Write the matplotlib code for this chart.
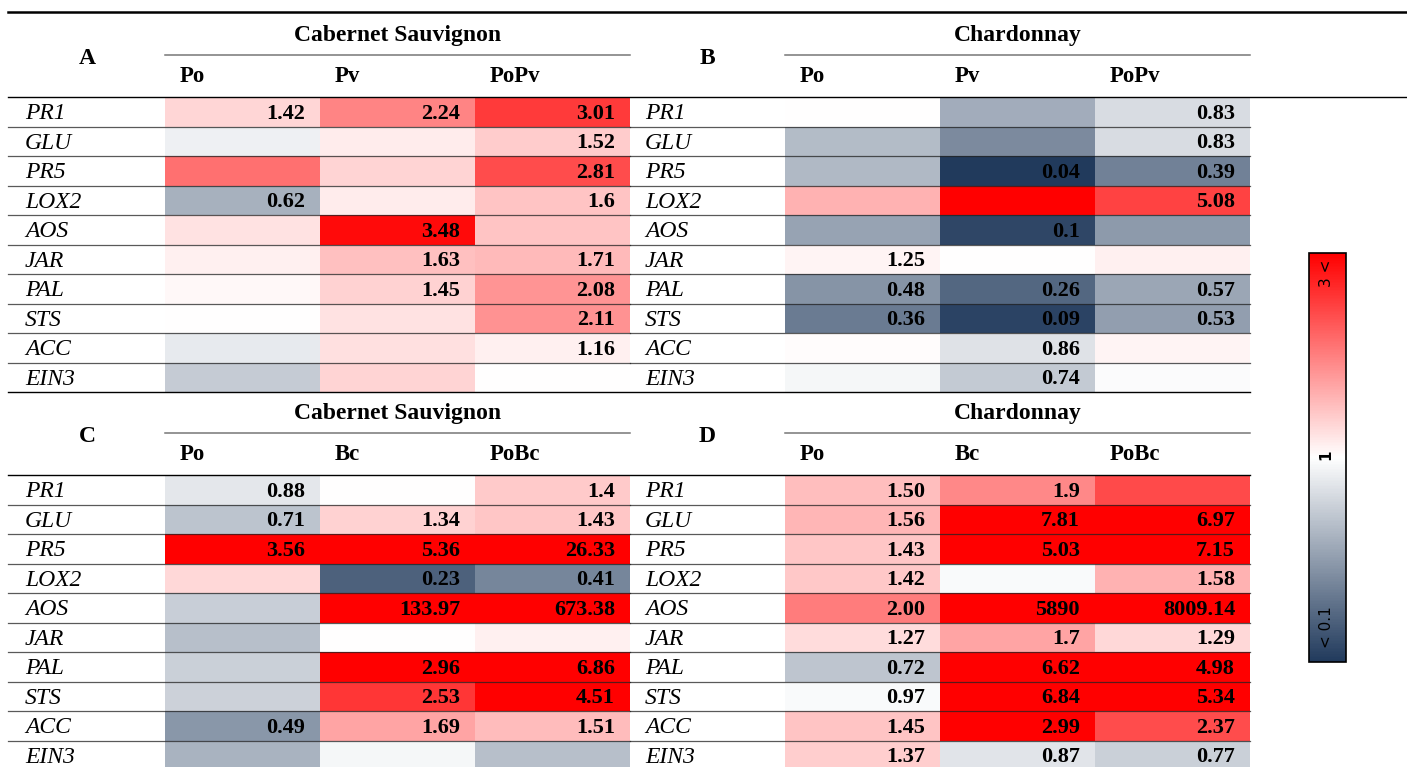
import numpy as np
import matplotlib.pyplot as plt
from matplotlib.colors import LinearSegmentedColormap, TwoSlopeNorm
from matplotlib.cm import ScalarMappable

genes = ["PR1", "GLU", "PR5", "LOX2", "AOS", "JAR", "PAL", "STS", "ACC", "EIN3"]
cultivars = ["Cabernet Sauvignon", "Chardonnay"]
cols_pv = ["Po", "Pv", "PoPv"]
cols_bc = ["Po", "Bc", "PoBc"]

# fold change per cell; cells with no printed number were read from their colour
a_vals = [[1.42, 2.24, 3.01], [0.93, 1.2, 1.52], [2.45, 1.43, 2.81], [0.62, 1.19, 1.6],
          [1.3, 3.48, 1.6], [1.16, 1.63, 1.71], [1.08, 1.45, 2.08], [1.02, 1.3, 2.11],
          [0.9, 1.32, 1.16], [0.75, 1.43, 1.0]]
a_text = [["1.42", "2.24", "3.01"], ["", "", "1.52"], ["", "", "2.81"], ["0.62", "", "1.6"],
          ["", "3.48", ""], ["", "1.63", "1.71"], ["", "1.45", "2.08"], ["", "", "2.11"],
          ["", "", "1.16"], ["", "", ""]]

b_vals = [[1.0, 0.6, 0.83], [0.67, 0.43, 0.83], [0.66, 0.04, 0.39], [2.65, 7.0, 5.08],
          [0.55, 0.1, 0.51], [1.25, 1.0, 1.33], [0.48, 0.26, 0.57], [0.36, 0.09, 0.53],
          [1.05, 0.86, 1.25], [0.96, 0.74, 0.98]]
b_text = [["", "", "0.83"], ["", "", "0.83"], ["", "0.04", "0.39"], ["", "", "5.08"],
          ["", "0.1", ""], ["1.25", "", ""], ["0.48", "0.26", "0.57"], ["0.36", "0.09", "0.53"],
          ["", "0.86", ""], ["", "0.74", ""]]

c_vals = [[0.88, 1.0, 1.4], [0.71, 1.34, 1.43], [3.56, 5.36, 26.33], [1.3, 0.23, 0.41],
          [0.76, 133.97, 673.38], [0.69, 1.0, 1.12], [0.77, 2.96, 6.86], [0.78, 2.53, 4.51],
          [0.49, 1.69, 1.51], [0.63, 0.96, 0.69]]
c_text = [["0.88", "", "1.4"], ["0.71", "1.34", "1.43"], ["3.56", "5.36", "26.33"], ["", "0.23", "0.41"],
          ["", "133.97", "673.38"], ["", "", ""], ["", "2.96", "6.86"], ["", "2.53", "4.51"],
          ["0.49", "1.69", "1.51"], ["", "", ""]]

d_vals = [[1.50, 1.9, 2.38], [1.56, 7.81, 6.97], [1.43, 5.03, 7.15], [1.42, 0.97, 1.58],
          [2.00, 5890, 8009.14], [1.27, 1.7, 1.29], [0.72, 6.62, 4.98], [0.97, 6.84, 5.34],
          [1.45, 2.99, 2.37], [1.37, 0.87, 0.77]]
d_text = [["1.50", "1.9", ""], ["1.56", "7.81", "6.97"], ["1.43", "5.03", "7.15"], ["1.42", "", "1.58"],
          ["2.00", "5890", "8009.14"], ["1.27", "1.7", "1.29"], ["0.72", "6.62", "4.98"],
          ["0.97", "6.84", "5.34"], ["1.45", "2.99", "2.37"], ["1.37", "0.87", "0.77"]]

# colour scale: each panel was coloured with its own upper limit
panels = [
    ("A", cultivars[0], cols_pv, a_vals, a_text, 3.6),
    ("B", cultivars[1], cols_pv, b_vals, b_text, 6.5),
    ("C", cultivars[0], cols_bc, c_vals, c_text, 2.95),
    ("D", cultivars[1], cols_bc, d_vals, d_text, 2.95),
]

cmap = LinearSegmentedColormap.from_list("fc", ["#213a5c", "#ffffff", "#ff0000"])
serif = "Liberation Serif"

W, H = 1407, 767
fig = plt.figure(figsize=(W / 100, H / 100), dpi=100)
ax = fig.add_axes([0, 0, 1, 1])
ax.set_xlim(0, W)
ax.set_ylim(H, 0)
ax.axis("off")

# layout in pixels
cell_x = [165, 785]
label_x = [25, 645]
block_x = [8, 630]
letter_x = [87, 707]
row_top = [97, 475]
col_w = 155
row_h = 29.5
dy = 2  # nudge text down a little, serif glyphs sit high with va=center

for k, (name, title, cols, vals, text, vmax) in enumerate(panels):
    c, r = k % 2, k // 2
    x0, y0 = cell_x[c], row_top[r]
    xe = x0 + col_w * np.arange(4)
    ye = y0 + row_h * np.arange(len(genes) + 1)
    norm = TwoSlopeNorm(vmin=0.04, vcenter=1, vmax=vmax)
    ax.pcolormesh(xe, ye, np.array(vals, dtype=float), cmap=cmap, norm=norm)

    # row separators
    for i in range(1, len(genes)):
        ax.plot([block_x[c], xe[-1]], [ye[i], ye[i]], color="#222222", lw=0.9, alpha=0.75)

    for i, g in enumerate(genes):
        yc = (ye[i] + ye[i + 1]) / 2 + dy
        ax.text(label_x[c], yc, g, family=serif, style="italic", fontsize=17,
                ha="left", va="center")
        for j in range(3):
            if text[i][j]:
                ax.text(xe[j + 1] - 15, yc, text[i][j], family=serif, weight="bold",
                        fontsize=16, ha="right", va="center")

    # headers
    ax.text((xe[0] + xe[-1]) / 2, y0 - 64 + dy, title, family=serif, weight="bold",
            fontsize=17, ha="center", va="center")
    ax.plot([xe[0], xe[-1]], [y0 - 42, y0 - 42], color="#777777", lw=1.1)
    for j, col in enumerate(cols):
        ax.text(xe[j] + 15, y0 - 22 + dy, col, family=serif, weight="bold",
                fontsize=16.5, ha="left", va="center")
    ax.text(letter_x[c], y0 - 40 + dy, name, family=serif,
            weight="bold", fontsize=17, ha="center", va="center")

# table rules
ax.plot([8, W], [12, 12], color="black", lw=1.8)
ax.plot([8, W], [row_top[0], row_top[0]], color="black", lw=1.0)
bottom_a = row_top[0] + row_h * len(genes)
ax.plot([8, cell_x[1] + 3 * col_w], [bottom_a, bottom_a], color="black", lw=1.0)
ax.plot([8, cell_x[1] + 3 * col_w], [row_top[1], row_top[1]], color="black", lw=1.0)

# colour bar
cax = fig.add_axes([1309 / W, 1 - 662 / H, 37 / W, 409 / H])
cb = fig.colorbar(ScalarMappable(norm=TwoSlopeNorm(vmin=0.1, vcenter=1, vmax=3), cmap=cmap),
                  cax=cax)
cb.set_ticks([])
cb.outline.set_linewidth(1.2)
cax.text(0.46, 0.95, "3 <", transform=cax.transAxes, rotation=90, fontsize=11,
         ha="center", va="center")
cax.text(0.46, 0.506, "1", transform=cax.transAxes, rotation=90, fontsize=11,
         weight="bold", ha="center", va="center")
cax.text(0.46, 0.085, "< 0.1", transform=cax.transAxes, rotation=90, fontsize=11,
         ha="center", va="center")

fig.savefig("out.png", dpi=100)
